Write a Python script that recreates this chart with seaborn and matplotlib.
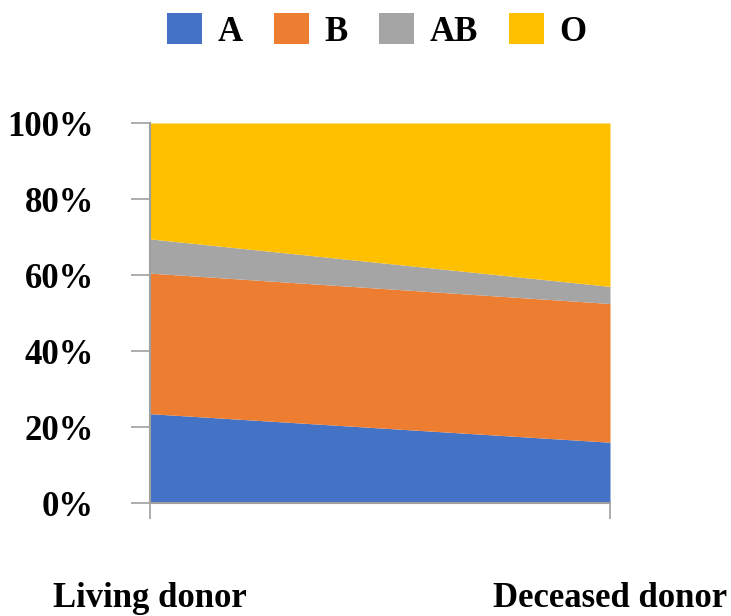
import matplotlib
matplotlib.use("Agg")
import matplotlib.pyplot as plt
from matplotlib.patches import Patch
from matplotlib.ticker import PercentFormatter
import seaborn as sns

# Share of donors by blood group (%)
donor_types = ["Living donor", "Deceased donor"]
blood_groups = ["A", "B", "AB", "O"]
share_a = [23.5, 16.0]
share_b = [37.0, 36.5]
share_ab = [9.0, 4.5]
share_o = [30.5, 43.0]
group_colors = ["#4472C4", "#ED7D31", "#A5A5A5", "#FFC000"]

sns.set_theme(style="white")
plt.rcParams["font.family"] = ["Liberation Serif", "DejaVu Serif"]
plt.rcParams["font.weight"] = "bold"
plt.rcParams["text.color"] = "black"

fig = plt.figure(figsize=(7.31, 6.16), dpi=100)
ax = fig.add_axes([150 / 731, 113 / 616, 460 / 731, 380 / 616])

x = list(range(len(donor_types)))
ax.stackplot(x, share_a, share_b, share_ab, share_o,
             colors=group_colors, labels=blood_groups, linewidth=0)

ax.set_xlim(0, 1)
ax.set_ylim(0, 100)
ax.set_yticks([0, 20, 40, 60, 80, 100])
ax.yaxis.set_major_formatter(PercentFormatter(decimals=0))
ax.set_xticks(x)
ax.set_xticklabels(donor_types)

for side in ("top", "right"):
    ax.spines[side].set_visible(False)
for side in ("left", "bottom"):
    ax.spines[side].set_color("#A0A0A0")
    ax.spines[side].set_linewidth(1.5)

ax.tick_params(axis="y", which="major", direction="out", length=13.5,
               width=1.2, color="#A0A0A0", pad=27, labelsize=25,
               labelcolor="black", left=True)
ax.tick_params(axis="x", which="major", direction="out", length=11.5,
               width=1.2, color="#A0A0A0", pad=45.5, labelsize=25,
               labelcolor="black", bottom=True)
for lbl in ax.get_xticklabels() + ax.get_yticklabels():
    lbl.set_fontweight("bold")

handles = [Patch(facecolor=c, edgecolor="none") for c in group_colors]
fig.legend(handles, blood_groups, loc="upper center",
           bbox_to_anchor=(377 / 731, 1 + 11 / 616), ncol=4, frameon=False,
           prop={"family": "Liberation Serif", "weight": "bold", "size": 25},
           labelcolor="black",
           handlelength=1.0, handleheight=1.0, handletextpad=0.45,
           columnspacing=0.9, borderaxespad=0.3)

fig.savefig("out.png", dpi=100)
